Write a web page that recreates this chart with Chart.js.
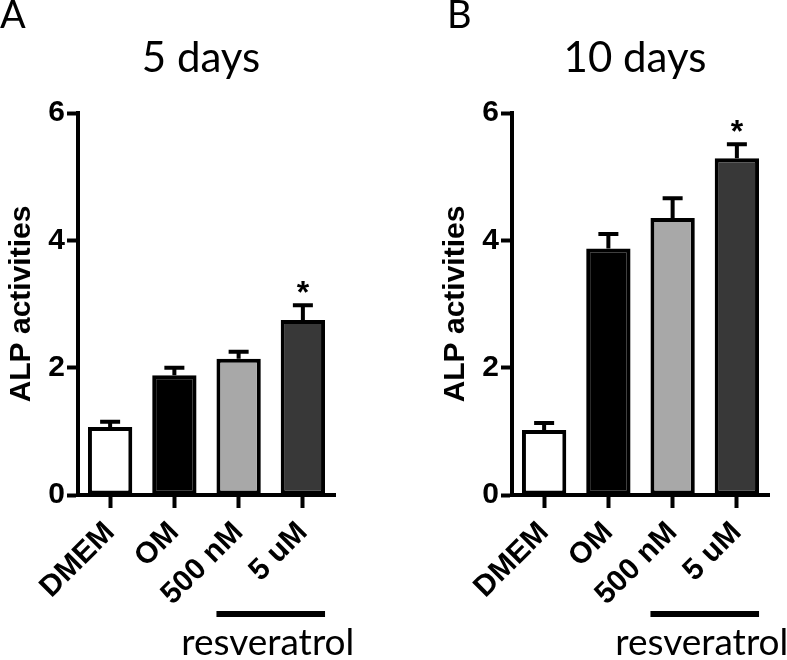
<!DOCTYPE html>
<html>
<head>
<meta charset="utf-8">
<script src="https://cdn.jsdelivr.net/npm/chart.js@4.4.1/dist/chart.umd.min.js"></script>
<style>
    html, body { margin: 0; padding: 0; background: #fff; }
    #wrap { position: relative; width: 787px; height: 660px; overflow: hidden; }
    canvas { position: absolute; top: 0; }
    #panel-a { left: 0; }
    #panel-b { left: 434px; }
</style>
</head>
<body>
<div id="wrap">
    <canvas id="panel-a" width="353" height="660"></canvas>
    <canvas id="panel-b" width="353" height="660"></canvas>
</div>
<script>
const categories = ['DMEM', 'OM', '500 nM', '5 uM'];
const days5Means = [1.07, 1.88, 2.14, 2.75];
const days5Errors = [0.08, 0.12, 0.11, 0.23];
const days5Stars = [false, false, false, true];
const days10Means = [1.02, 3.87, 4.35, 5.29];
const days10Errors = [0.11, 0.23, 0.31, 0.22];
const days10Stars = [false, false, false, true];
const barColors = ['#ffffff', '#000000', '#a8a8a8', '#383838'];
const yTickValues = [0, 2, 4, 6];

let AlpCharts = {

    boldFont: '"Liberation Sans", Arial, sans-serif',
    textFont: 'Lato, "Open Sans", sans-serif',

    setup: function () {
        this.drawPanel('panel-a', 'A', 0, '5 days', days5Means, days5Errors, days5Stars);
        this.drawPanel('panel-b', 'B', 13, '10 days', days10Means, days10Errors, days10Stars);
    },

    // error bars, star, panel letter, title and the resveratrol bracket
    decorations: {
        id: 'decorations',
        afterDatasetsDraw: function (chart, args, opts) {
            const ctx = chart.ctx;
            const bars = chart.getDatasetMeta(0).data;
            const yScale = chart.scales.y;

            ctx.save();
            ctx.strokeStyle = '#000';
            ctx.fillStyle = '#000';
            ctx.lineWidth = 4;
            bars.forEach(function (bar, i) {
                const top = yScale.getPixelForValue(opts.means[i] + opts.errors[i]);
                ctx.beginPath();
                ctx.moveTo(bar.x, bar.y);
                ctx.lineTo(bar.x, top);
                ctx.moveTo(bar.x - 10, top);
                ctx.lineTo(bar.x + 10, top);
                ctx.stroke();
                if (opts.stars[i]) {
                    ctx.font = 'bold 32px ' + AlpCharts.boldFont;
                    ctx.textAlign = 'center';
                    ctx.textBaseline = 'alphabetic';
                    ctx.fillText('*', bar.x, top - 2);
                }
            });

            // panel letter + title
            ctx.textBaseline = 'alphabetic';
            ctx.font = '38px ' + AlpCharts.textFont;
            ctx.textAlign = 'left';
            ctx.fillText(opts.letter, opts.letterX, 28);
            ctx.font = '42px ' + AlpCharts.textFont;
            ctx.textAlign = 'center';
            ctx.fillText(opts.title, 201, 72);

            // resveratrol line under the last two bars
            const b3 = bars[2], b4 = bars[3];
            const x1 = b3.x - b3.width / 2, x2 = b4.x + b4.width / 2;
            ctx.lineWidth = 6;
            ctx.beginPath();
            ctx.moveTo(x1, 614);
            ctx.lineTo(x2, 614);
            ctx.stroke();
            ctx.font = '37px ' + AlpCharts.textFont;
            ctx.textAlign = 'center';
            ctx.fillText('resveratrol', (x1 + x2) / 2 - 3, 655);
            ctx.restore();
        }
    },

    drawPanel: function (id, letter, letterX, title, means, errors, stars) {
        const tickFont = {family: this.boldFont, size: 30, weight: 'bold'};

        new Chart(document.getElementById(id), {
            type: 'bar',
            data: {
                labels: categories,
                datasets: [{
                    data: means,
                    backgroundColor: barColors,
                    borderColor: '#000',
                    borderWidth: 4,
                    borderSkipped: false,
                    barPercentage: 0.69,
                    categoryPercentage: 1
                }]
            },
            plugins: [this.decorations],
            options: {
                responsive: false,
                animation: false,
                layout: {padding: {top: 113, right: 18, left: 0, bottom: 0}},
                plugins: {
                    legend: {display: false},
                    tooltip: {enabled: false},
                    decorations: {
                        means: means, errors: errors, stars: stars,
                        letter: letter, letterX: letterX, title: title
                    }
                },
                scales: {
                    x: {
                        grid: {drawOnChartArea: false, offset: false, tickLength: 13, tickWidth: 4, tickColor: '#000'},
                        border: {width: 4, color: '#000'},
                        ticks: {
                            color: '#000', font: tickFont, padding: 7,
                            minRotation: 45, maxRotation: 45, autoSkip: false
                        },
                        afterFit: function (scale) {
                            scale.height = 165;
                        }
                    },
                    y: {
                        min: 0, max: 6,
                        afterBuildTicks: function (scale) {
                            scale.ticks = yTickValues.map(function (v) { return {value: v}; });
                        },
                        grid: {drawOnChartArea: false, tickLength: 11, tickWidth: 4, tickColor: '#000'},
                        border: {width: 4, color: '#000'},
                        ticks: {color: '#000', font: tickFont, padding: 2},
                        title: {
                            display: true, text: 'ALP activities', color: '#000',
                            font: {family: this.boldFont, size: 30, weight: 'bold'},
                            padding: {top: 4, bottom: 0}
                        },
                        afterFit: function (scale) {
                            scale.width = 78;
                        }
                    }
                }
            }
        });
    }
};

AlpCharts.setup();
</script>
</body>
</html>
